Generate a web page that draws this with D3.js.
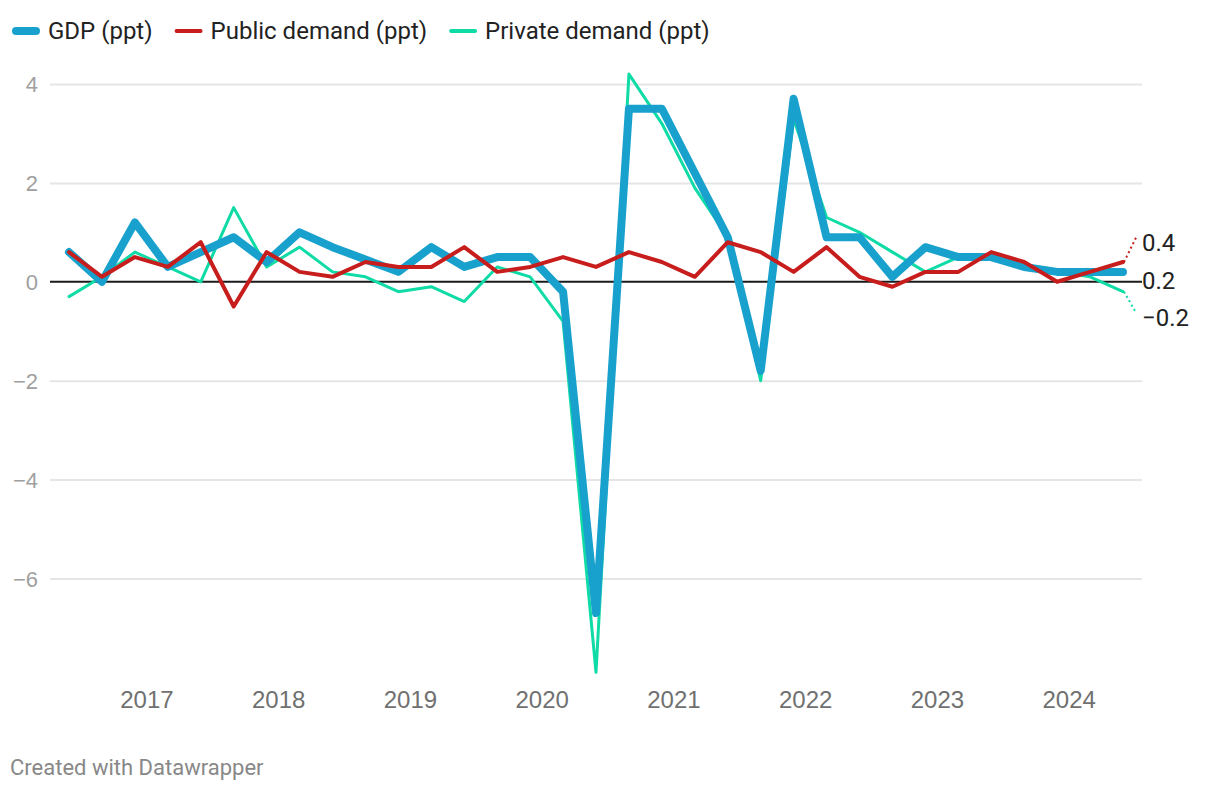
<!DOCTYPE html>
<html><head><meta charset="utf-8">
<script src="https://cdn.jsdelivr.net/npm/d3@7"></script>
<style>
body{margin:0;background:#fff;}
svg{font-family:Roboto, "Noto Sans", sans-serif;}
</style></head><body>
<svg id="chart" width="1220" height="792"></svg>
<script>
// ---- data (quarterly, 2016 Q2 .. 2024 Q2) ----
const quarters = ["2016Q2","2016Q3","2016Q4","2017Q1","2017Q2","2017Q3","2017Q4","2018Q1","2018Q2","2018Q3","2018Q4",
  "2019Q1","2019Q2","2019Q3","2019Q4","2020Q1","2020Q2","2020Q3","2020Q4","2021Q1","2021Q2","2021Q3","2021Q4",
  "2022Q1","2022Q2","2022Q3","2022Q4","2023Q1","2023Q2","2023Q3","2023Q4","2024Q1","2024Q2"];
const gdp = [0.6,0.0,1.2,0.3,0.6,0.9,0.4,1.0,0.7,0.45,0.2,0.7,0.3,0.5,0.5,-0.2,-6.7,3.5,3.5,2.2,0.9,-1.8,3.7,0.9,0.9,0.1,0.7,0.5,0.5,0.3,0.2,0.2,0.2];
const publicDemand = [0.6,0.1,0.5,0.3,0.8,-0.5,0.6,0.2,0.1,0.4,0.3,0.3,0.7,0.2,0.3,0.5,0.3,0.6,0.4,0.1,0.8,0.6,0.2,0.7,0.1,-0.1,0.2,0.2,0.6,0.4,0.0,0.2,0.4];
const privateDemand = [-0.3,0.1,0.6,0.3,0.0,1.5,0.3,0.7,0.2,0.1,-0.2,-0.1,-0.4,0.3,0.1,-0.8,-7.9,4.2,3.2,1.9,0.9,-2.0,3.3,1.3,1.0,0.6,0.2,0.5,0.45,0.35,0.2,0.1,-0.2];
const seriesNames = ["GDP (ppt)","Public demand (ppt)","Private demand (ppt)"];
const seriesColors = ["#18a1cd","#c71e1d","#0fdba6"];
const seriesWidths = [8,4,3];
const yearLabels = ["2017","2018","2019","2020","2021","2022","2023","2024"];
const yTicks = [-6,-4,-2,0,2,4];
const endLabels = ["0.2","0.4","−0.2"];

// ---- layout ----
const svg = d3.select("#chart");
const plotLeft = 50, plotRight = 1142;
const x = d3.scaleLinear().domain([0, quarters.length - 1]).range([69, 1123]);
const y = d3.scaleLinear().domain([-8, 4]).range([677.3, 84]);
const yearTickIndex = yr => (yr - 2017) * 4 + 2.35;

// gridlines
svg.append("g").attr("transform", `translate(${plotLeft},0)`)
  .call(d3.axisLeft(y).tickValues(yTicks.filter(d => d !== 0)).tickSize(-(plotRight - plotLeft)).tickFormat(""))
  .call(g => g.select(".domain").remove())
  .call(g => g.selectAll("line").attr("stroke", "#e5e5e5").attr("stroke-width", 2));

// y tick labels
svg.append("g").attr("transform", `translate(38,0)`)
  .call(d3.axisLeft(y).tickValues(yTicks).tickSize(0).tickPadding(0).tickFormat(d3.format("d")))
  .call(g => g.select(".domain").remove())
  .call(g => g.selectAll("text").attr("fill", "#a0a0a0").style("font-size", "22px").attr("font-family", null).attr("dy", "0.36em"));

// x axis labels
svg.append("g").attr("transform", `translate(0,708)`)
  .call(d3.axisBottom(x).tickValues(yearLabels.map(d => yearTickIndex(+d))).tickSize(0).tickPadding(0)
        .tickFormat((d, i) => yearLabels[i]))
  .call(g => g.select(".domain").remove())
  .call(g => g.selectAll("text").attr("fill", "#707070").style("font-size", "24px").attr("font-family", null).attr("dy", "0"));

// zero baseline
svg.append("line").attr("x1", plotLeft).attr("x2", plotRight).attr("y1", y(0)).attr("y2", y(0))
  .attr("stroke", "#1a1a1a").attr("stroke-width", 2);

// lines
const data = [gdp, publicDemand, privateDemand];
const line = d3.line().x((d, i) => x(i)).y(d => y(d));
const drawOrder = [2, 0, 1];
drawOrder.forEach(k => {
  svg.append("path").datum(data[k]).attr("d", line).attr("fill", "none")
    .attr("stroke", seriesColors[k]).attr("stroke-width", seriesWidths[k])
    .attr("stroke-linejoin", "round").attr("stroke-linecap", "round");
});

// end labels with de-overlap
const last = quarters.length - 1;
let labs = data.map((s, k) => ({k, v: s[last], y0: y(s[last]), y: y(s[last]), text: endLabels[k]}));
labs.sort((a, b) => a.y0 - b.y0);
const gap = 37.5;
for (let it = 0; it < 200; it++) {
  for (let i = 1; i < labs.length; i++) {
    const d = labs[i].y - labs[i-1].y;
    if (d < gap) { const s = (gap - d) / 2; labs[i].y += s; labs[i-1].y -= s; }
  }
}
labs.forEach(l => {
  const lx = x(last);
  if (Math.abs(l.y - l.y0) > 10) {
    svg.append("line").attr("x1", lx + 1).attr("y1", l.y0).attr("x2", lx + 13).attr("y2", l.y)
      .attr("stroke", seriesColors[l.k]).attr("stroke-width", 2).attr("stroke-dasharray", "2,3");
  }
  svg.append("text").attr("x", 1142).attr("y", l.y + 13.5).attr("fill", "#222")
    .style("font-size", "24px").text(l.text);
});

// legend
const lg = svg.append("g");
let lx = 12;
seriesNames.forEach((n, k) => {
  const w = k === 0 ? 8 : 4;
  lg.append("line").attr("x1", lx + w/2).attr("x2", lx + 28 - w/2).attr("y1", 31).attr("y2", 31)
    .attr("stroke", seriesColors[k]).attr("stroke-width", w).attr("stroke-linecap", "round");
  const t = lg.append("text").attr("x", lx + 36).attr("y", 31).attr("dy", "0.35em")
    .attr("fill", "#222").style("font-size", "24px").text(n);
  lx += 36 + t.node().getComputedTextLength() + 22;
});

// footer
svg.append("text").attr("x", 10).attr("y", 767).attr("dy", "0.35em").attr("fill", "#888")
  .style("font-size", "22px").text("Created with Datawrapper");
</script>
</body></html>
